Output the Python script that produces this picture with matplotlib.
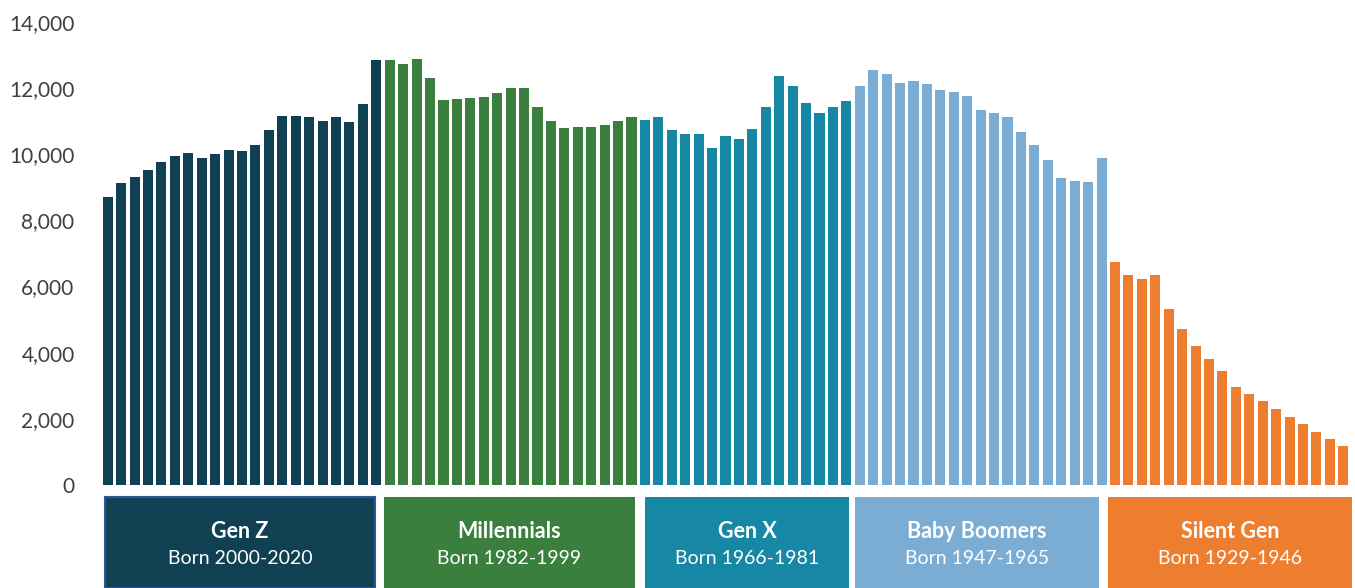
import matplotlib
matplotlib.use('Agg')
import matplotlib.pyplot as plt
from matplotlib.patches import Rectangle

plt.rcParams['font.family'] = ['Lato', 'DejaVu Sans']

gen_z = [8700, 9120, 9300, 9515, 9760, 9940, 10030, 9880, 10000, 10120, 10090,
         10270, 10730, 11150, 11150, 11120, 11000, 11120, 10970, 11520, 12850]
millennials = [12850, 12730, 12880, 12300, 11640, 11670, 11700, 11730, 11850, 12000,
               12000, 11420, 11000, 10790, 10820, 10820, 10880, 11000, 11120]
gen_x = [11050, 11130, 10740, 10610, 10600, 10190, 10550, 10450, 10770, 11430,
         12360, 12060, 11550, 11240, 11430, 11620]
boomers = [12060, 12550, 12420, 12150, 12210, 12120, 11940, 11880, 11760, 11330,
           11240, 11120, 10670, 10270, 9820, 9270, 9180, 9150, 9880]
silent = [6730, 6360, 6240, 6360, 5330, 4730, 4210, 3820, 3450, 2970, 2760,
          2550, 2300, 2060, 1850, 1610, 1390, 1180]

groups = [gen_z, millennials, gen_x, boomers, silent]
names = ['Gen Z', 'Millennials', 'Gen X', 'Baby Boomers', 'Silent Gen']
born = ['Born 2000-2020', 'Born 1982-1999', 'Born 1966-1981', 'Born 1947-1965', 'Born 1929-1946']
colors = ['#0F4152', '#3A7F3D', '#1787A6', '#7BACD3', '#ED7E30']

# box extents in figure pixels (left, right)
box_px = [(105, 375), (384, 635), (645, 849), (855, 1099), (1108, 1352)]

W, H = 1355, 588
fig = plt.figure(figsize=(W / 100, H / 100), dpi=100)
ax = fig.add_axes([101 / W, (H - 485) / H, (1350 - 101) / W, (485 - 22) / H])

start = 0
for vals, c in zip(groups, colors):
    xs = range(start, start + len(vals))
    ax.bar(xs, vals, width=0.75, color=c)
    start += len(vals)

ax.set_xlim(-0.5, start - 0.5)
ax.set_ylim(0, 14000)
ax.set_yticks(range(0, 14001, 2000))
ax.set_yticklabels([f'{v:,}' for v in range(0, 14001, 2000)], fontsize=15, color='#404040')
ax.tick_params(axis='y', length=0, pad=19)
ax.set_xticks([])
for s in ax.spines.values():
    s.set_visible(False)

for (l, r), c, n, b in zip(box_px, colors, names, born):
    top = 497
    rect = Rectangle((l / W, 0), (r - l) / W, (H - top) / H, transform=fig.transFigure,
                     facecolor=c, edgecolor='#2E5597' if n == 'Gen Z' else c,
                     linewidth=1.5 if n == 'Gen Z' else 0)
    fig.add_artist(rect)
    cx = (l + r) / 2 / W
    fig.text(cx, (H - 531) / H, n, ha='center', va='center', color='white',
             fontsize=15.5, fontweight='bold')
    fig.text(cx, (H - 559) / H, b, ha='center', va='center', color='white', fontsize=14)

fig.savefig('out.png', dpi=100)
